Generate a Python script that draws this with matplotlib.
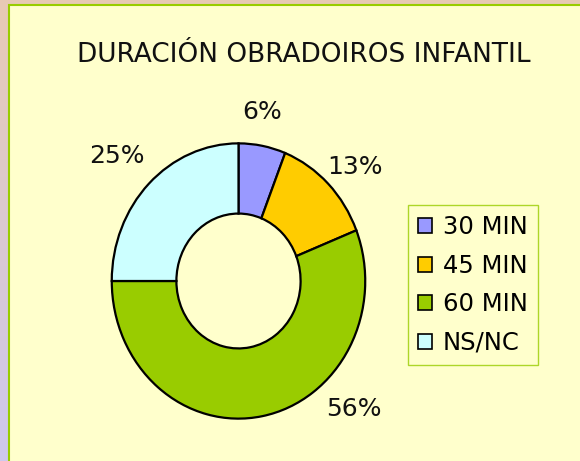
import numpy as np
import matplotlib
matplotlib.use("Agg")
import matplotlib.pyplot as plt
from matplotlib.patches import Rectangle

# -----------------------------
# Data
# -----------------------------
title = "DURACIÓN OBRADOIROS INFANTIL"
categories = ["30 MIN", "45 MIN", "60 MIN", "NS/NC"]
shares = [6, 13, 56, 25]
colors = ["#9999FF", "#FFCC00", "#99CC00", "#CCFFFF"]

# label centres in pie axes coords (radius = 1)
label_pos = [(0.19, 1.23), (0.92, 0.83), (0.91, -0.93), (-0.96, 0.91)]

W, H = 580, 461
fig = plt.figure(figsize=(W / 100, H / 100), dpi=100)

# -----------------------------
# Background (gradient + panel)
# -----------------------------
bg = fig.add_axes([0, 0, 1, 1])
top = np.array([232, 202, 180]) / 255
bot = np.array([206, 200, 238]) / 255
t = np.linspace(0, 1, 256)[:, None]
grad = top * (1 - t) + bot * t
bg.imshow(grad[:, None, :].repeat(4, axis=1), aspect="auto", extent=[0, W, H, 0])
bg.add_patch(Rectangle((8.5, 5.5), W, H, facecolor="#FFFFCC",
                       edgecolor="#99CC00", linewidth=1.5))
bg.set_xlim(0, W)
bg.set_ylim(H, 0)
bg.axis("off")

fig.text(304 / W, 1 - 55 / H, title, ha="center", va="center",
         fontsize=19, color="#111111")

# -----------------------------
# Donut
# -----------------------------
cx, cy, rx, ry = 238.5, 281, 128, 139
ax = fig.add_axes([(cx - rx) / W, 1 - (cy + ry) / H, 2 * rx / W, 2 * ry / H])
wedges, _ = ax.pie(shares, colors=colors, startangle=90, counterclock=False,
                   radius=1, wedgeprops=dict(width=0.51, edgecolor="black",
                                             linewidth=1.6))
ax.set_aspect("auto")
ax.set_xlim(-1.01, 1.01)
ax.set_ylim(-1.01, 1.01)
ax.axis("off")

for v, (lx, ly) in zip(shares, label_pos):
    ax.text(lx, ly, f"{v}%", ha="center", va="center", fontsize=18,
            color="#111111")

leg = fig.legend(wedges, categories, loc="upper left",
                 bbox_to_anchor=(408 / W, 1 - 205 / H), frameon=True,
                 fontsize=17.5, handlelength=0.55, handleheight=0.55,
                 handletextpad=0.45, labelspacing=0.6, borderpad=0.42,
                 borderaxespad=0, fancybox=False)
leg.get_frame().set_facecolor("#FFFFCC")
leg.get_frame().set_edgecolor("#99CC00")
leg.get_frame().set_linewidth(1.0)
for h in leg.legend_handles:
    h.set_linewidth(1.2)

fig.savefig("out.png", dpi=100)
